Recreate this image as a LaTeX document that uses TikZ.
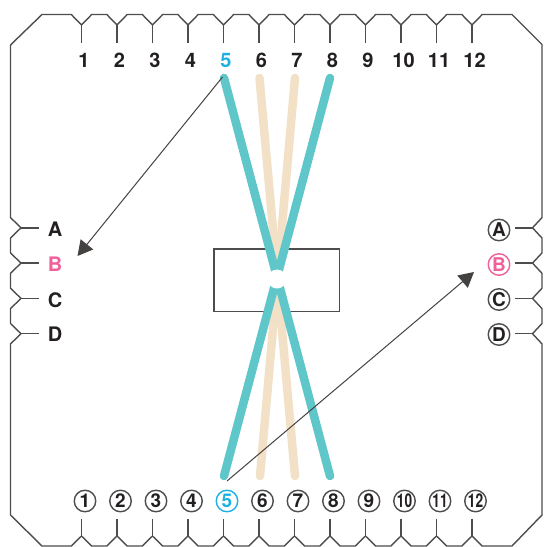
\documentclass[tikz,border=0pt]{standalone}
\usepackage{fontspec}
\setmainfont{TeX Gyre Heros}
\usetikzlibrary{arrows.meta}

\definecolor{inkdark}{HTML}{231F20}
\definecolor{edgegray}{HTML}{4D4D4D}
\definecolor{wireteal}{HTML}{5FC6C9}
\definecolor{wiretan}{HTML}{F2E1C6}
\definecolor{markblue}{HTML}{1DB1E2}
\definecolor{markpink}{HTML}{F0619B}

\tikzset{
	outline/.style={draw=edgegray, line width=1.4pt, line join=miter},
	wire/.style={line width=8.5pt, line cap=round},
	pointer/.style={draw=inkdark!85, line width=1pt, -{Triangle[length=15pt,width=16pt]}},
	pinlabel/.style={font=\bfseries\fontsize{20}{20}\selectfont, text=inkdark, inner sep=0pt},
	ringlabel/.style={circle, draw=edgegray, line width=1.4pt, minimum size=21.5pt,
		inner sep=0pt, font=\bfseries\fontsize{19}{19}\selectfont, text=inkdark},
}
\newcommand{\squeezed}[1]{\scalebox{0.72}[1]{#1}}

\begin{document}
\begin{tikzpicture}[x=1pt, y=-1pt]

% parameters %{{{1

	\def\pitch{35.5}
	\def\rowpitch{35.3}
	\def\tooth{10.2}

	\useasboundingbox (0,0) rectangle (544,547);

% outline %{{{1

	\draw[outline] (42,14.5)
		\foreach \x [evaluate=\x as \px using 81.5+\pitch*\x] in {0,...,11} {
			-- (\px-\tooth,14.5) -- (\px,25) -- (\px+\tooth,14.5) }
		-- (512,14.5) -- (542,44.5)
		\foreach \y [evaluate=\y as \py using 227.8+\rowpitch*\y] in {0,...,3} {
			-- (542,\py-\tooth) -- (532.5,\py) -- (542,\py+\tooth) }
		-- (542,515) -- (512,546)
		\foreach \x [evaluate=\x as \px using 81.5+\pitch*\x] in {11,...,0} {
			-- (\px+\tooth,546) -- (\px,536) -- (\px-\tooth,546) }
		-- (42,546) -- (10.5,515)
		\foreach \y [evaluate=\y as \py using 227.8+\rowpitch*\y] in {3,...,0} {
			-- (10.5,\py+\tooth) -- (21,\py) -- (10.5,\py-\tooth) }
		-- (10.5,45) -- cycle;

% pin stems %{{{1

	\foreach \x [evaluate=\x as \px using 81.5+\pitch*\x] in {0,...,11} {
		\draw[outline] (\px,25) -- (\px,43);
		\draw[outline] (\px,536) -- (\px,518.5);
	}
	\foreach \y [evaluate=\y as \py using 227.8+\rowpitch*\y] in {0,...,3} {
		\draw[outline] (21,\py) -- (39,\py);
		\draw[outline] (532.5,\py) -- (515,\py);
	}

% connector body %{{{1

	\node[draw=edgegray, line width=1.4pt, fill=white, minimum width=125.5pt,
		minimum height=62.5pt, inner sep=0pt] (body) at (276.8,280.2) {};

% wires %{{{1

	\coordinate (top5) at (224,78);
	\coordinate (top6) at (259.5,78);
	\coordinate (top7) at (295,78);
	\coordinate (top8) at (330,78);
	\coordinate (bot5) at (224,476);
	\coordinate (bot6) at (260,476);
	\coordinate (bot7) at (295,476);
	\coordinate (bot8) at (330,476);

	\draw[wire, wiretan] (top6) -- (bot7);
	\draw[wire, wiretan] (top7) -- (bot6);
	\draw[wire, wireteal] (top5) -- (bot8);
	\draw[wire, wireteal] (top8) -- (bot5);

	\fill[white] (277,279) circle (9.5pt);

% top and left labels %{{{1

	\foreach \i [evaluate=\i as \lx using 84+\pitch*(\i-1)] in {1,2,3,4,6,7,8,9,10,11,12} {
		\node[pinlabel] (t\i) at (\lx,60) {\i};
	}
	\node[pinlabel, text=markblue] (t5) at (226,60) {5};

	\node[pinlabel] (lA) at (55,229) {A};
	\node[pinlabel, text=markpink] (lB) at (55,264.5) {B};
	\node[pinlabel] (lC) at (55,300) {C};
	\node[pinlabel] (lD) at (55,334.5) {D};

% ringed labels %{{{1

	\foreach \i [evaluate=\i as \lx using 85+\pitch*(\i-1)] in {1,2,3,4,6,7,8,9} {
		\node[ringlabel] (b\i) at (\lx,501) {\i};
	}
	\foreach \i [evaluate=\i as \lx using 85+\pitch*(\i-1)] in {10,11,12} {
		\node[ringlabel] (b\i) at (\lx,501) {\squeezed{\i}};
	}
	\node[ringlabel, draw=markblue, text=markblue] (b5) at (227,501) {5};

	\node[ringlabel] (rA) at (499,230) {A};
	\node[ringlabel, draw=markpink, text=markpink] (rB) at (499,264.5) {B};
	\node[ringlabel] (rC) at (499,299.5) {C};
	\node[ringlabel] (rD) at (499,334.5) {D};

% arrows %{{{1

	\coordinate (tailB) at (222.5,77);
	\coordinate (tipB) at (77.5,256);
	\coordinate (tailR) at (227,481);
	\coordinate (tipR) at (474,272);

	\draw[pointer] (tailB) -- (tipB);
	\draw[pointer] (tailR) -- (tipR);

% closing %{{{1

\end{tikzpicture}
\end{document}
